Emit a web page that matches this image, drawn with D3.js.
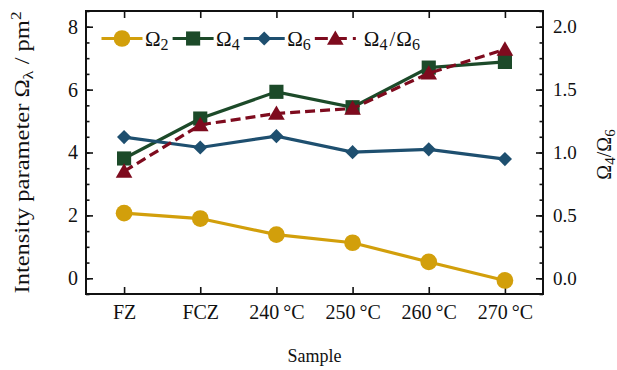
<!DOCTYPE html>
<html><head><meta charset="utf-8">
<script src="https://cdn.jsdelivr.net/npm/d3@7"></script>
<style>
body{margin:0;background:#fff;}
</style></head>
<body><svg id="c" width="617" height="370"></svg>
<script>
const categories = ["FZ","FCZ","240\u2009°C","250\u2009°C","260\u2009°C","270\u2009°C"];
const omega2 = [2.07, 1.90, 1.39, 1.13, 0.52, -0.07];
const omega4 = [3.81, 5.08, 5.93, 5.44, 6.70, 6.88];
const omega6 = [4.49, 4.16, 4.52, 4.01, 4.10, 3.79];
const ratio  = [0.85, 1.22, 1.31, 1.35, 1.63, 1.82];
const leftTicks = [0,2,4,6,8];
const rightTicks = [0.0,0.5,1.0,1.5,2.0];

const FONT = '"Liberation Serif", "Times New Roman", serif';
const svg = d3.select("#c");
const L=86, R=543, T=11, B=294;
const x = d3.scalePoint().domain(categories).range([L,R]).padding(0.5);
const yL = d3.scaleLinear().domain([-0.5,8.5]).range([B,T]);
const yR = d3.scaleLinear().domain([-0.125,2.125]).range([B,T]);

function styleAxis(g, size){
  g.select(".domain").remove();
  g.selectAll("line").attr("stroke","#111").attr("stroke-width",1.6);
  g.selectAll("text").style("font-family",FONT).attr("font-size",size||19).attr("fill","#111");
}
// minor ticks
svg.append("g").attr("transform",`translate(${L},0)`)
  .call(d3.axisLeft(yL).tickValues(d3.range(-0.5,8.51,0.5)).tickSize(-3.5).tickFormat(""))
  .call(styleAxis);
svg.append("g").attr("transform",`translate(${R},0)`)
  .call(d3.axisRight(yR).tickValues(d3.range(-0.125,2.126,0.125)).tickSize(-3.5).tickFormat(""))
  .call(styleAxis);
// major ticks
svg.append("g").attr("transform",`translate(${L},0)`)
  .call(d3.axisLeft(yL).tickValues(leftTicks).tickSize(-7).tickSizeOuter(0).tickPadding(8).tickFormat(d3.format("d")))
  .call(g=>styleAxis(g,20));
svg.append("g").attr("transform",`translate(${R},0)`)
  .call(d3.axisRight(yR).tickValues(rightTicks).tickSize(-7).tickSizeOuter(0).tickPadding(10).tickFormat(d3.format(".1f")))
  .call(g=>styleAxis(g,19));
svg.append("g").attr("transform",`translate(0,${B})`)
  .call(d3.axisBottom(x).tickSize(-7).tickSizeOuter(0).tickPadding(11))
  .call(g=>styleAxis(g,20));
svg.append("g").attr("transform",`translate(0,${T})`)
  .call(d3.axisTop(x).tickSize(-7).tickSizeOuter(0).tickFormat(""))
  .call(styleAxis);
// frame
svg.append("rect").attr("x",L).attr("y",T).attr("width",R-L).attr("height",B-T)
  .attr("fill","none").attr("stroke","#111").attr("stroke-width",2);

const col = {o2:"#d29f0b", o4:"#1c4a29", o6:"#1e4f6f", r:"#7e0b1e"};
const diamond = {draw(ctx,size){const r=Math.sqrt(size/2);ctx.moveTo(0,-r);ctx.lineTo(r,0);ctx.lineTo(0,r);ctx.lineTo(-r,0);ctx.closePath();}};
const sym = {
  o2: d3.symbol().type(d3.symbolCircle).size(220),
  o4: d3.symbol().type(d3.symbolSquare).size(200),
  o6: d3.symbol().type(diamond).size(100),
  r:  d3.symbol().type(d3.symbolTriangle).size(120)
};
const series = [
  {k:"o2", v:omega2, y:yL, dash:null},
  {k:"o4", v:omega4, y:yL, dash:null},
  {k:"o6", v:omega6, y:yL, dash:null},
  {k:"r",  v:ratio,  y:yR, dash:"10,5"}
];
series.forEach(s=>{
  const line = d3.line().x((d,i)=>x(categories[i])).y(d=>s.y(d));
  svg.append("path").datum(s.v).attr("d",line).attr("fill","none")
    .attr("stroke",col[s.k]).attr("stroke-width",3.2)
    .attr("stroke-dasharray",s.dash);
  svg.append("g").selectAll("path").data(s.v).join("path")
    .attr("transform",(d,i)=>`translate(${x(categories[i])},${s.y(d)+(s.k==="r"?1.5:0)})`)
    .attr("d",sym[s.k]()).attr("fill",col[s.k]);
});

// legend
const legend = [
  {k:"o2", main:"Ω", sub:"2", dash:null},
  {k:"o4", main:"Ω", sub:"4", dash:null},
  {k:"o6", main:"Ω", sub:"6", dash:null},
  {k:"r",  main:"Ω", sub:"4", tail:"/", sub2:"6", dash:"10,5", gap:8}
];
let lx = 101.5; const ly = 38.5;
legend.forEach(it=>{
  const g = svg.append("g");
  g.append("line").attr("x1",lx).attr("x2",lx+41).attr("y1",ly).attr("y2",ly)
    .attr("stroke",col[it.k]).attr("stroke-width",3.2).attr("stroke-dasharray",it.dash?"13,6":null);
  g.append("path").attr("transform",`translate(${lx+20.5},${ly+(it.k==="r"?1.5:0)})`)
    .attr("d",sym[it.k]()).attr("fill",col[it.k]);
  const t = g.append("text").attr("x",lx+41+(it.gap||2.5)).attr("y",ly+7)
    .style("font-family",FONT).attr("font-size",21).attr("fill","#111");
  t.append("tspan").text(it.main);
  t.append("tspan").attr("dy",4).attr("font-size",16).text(it.sub);
  if(it.tail){
    t.append("tspan").attr("dy",-4).attr("dx",2).text(it.tail);
    t.append("tspan").attr("dx",1).text("Ω");
    t.append("tspan").attr("dy",4).attr("font-size",16).text(it.sub2);
  }
  lx = lx+41+(it.gap||2.5)+t.node().getComputedTextLength()+4;
});

// y label left
const yl = svg.append("text").attr("transform",`translate(29,${(T+B)/2}) rotate(-90)`)
  .attr("text-anchor","middle").style("font-family",FONT).attr("font-size",20).attr("fill","#111");
yl.append("tspan").text("Intensity parameter Ω");
yl.append("tspan").attr("dy",4).attr("font-size",15).text("λ");
yl.append("tspan").attr("dy",-4).text("  /  pm");
yl.append("tspan").attr("dy",-8).attr("font-size",14).text("2");
yl.attr("textLength",282).attr("lengthAdjust","spacingAndGlyphs");

// y label right
const yr = svg.append("text").attr("transform",`translate(611,${(T+B)/2+2}) rotate(-90)`)
  .attr("text-anchor","middle").style("font-family",FONT).attr("font-size",20).attr("fill","#111");
yr.append("tspan").text("Ω");
yr.append("tspan").attr("dy",4).attr("font-size",15).text("4");
yr.append("tspan").attr("dy",-4).text("/Ω");
yr.append("tspan").attr("dy",4).attr("font-size",15).text("6");

// x label
svg.append("text").attr("x",(L+R)/2).attr("y",362).attr("text-anchor","middle")
  .style("font-family",FONT).attr("font-size",18).attr("fill","#111").text("Sample");
</script></body></html>
